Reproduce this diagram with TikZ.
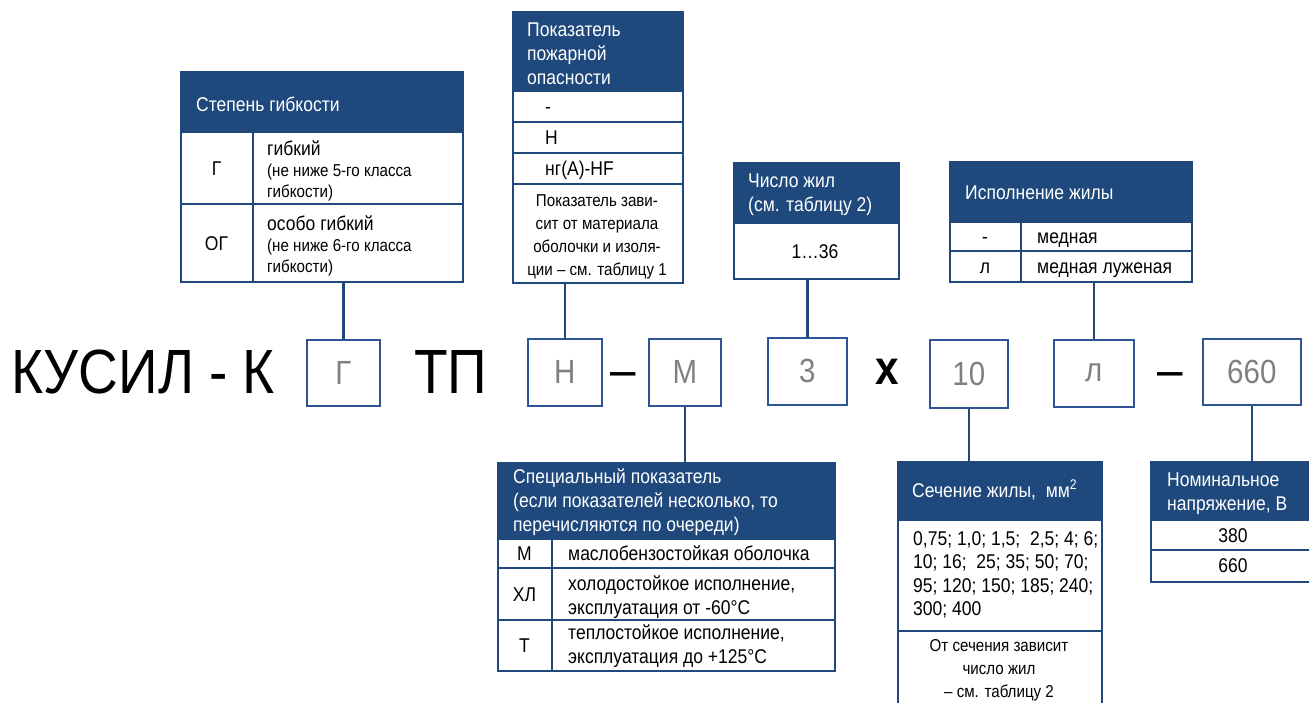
\documentclass[tikz,border=0pt]{standalone}
\usepackage{fontspec}
\setmainfont{Liberation Sans}[FakeStretch=0.88]
\usepackage{xcolor}
\usepackage{tikz}
\usetikzlibrary{positioning}

\definecolor{navy}{RGB}{31,73,125}
\definecolor{boxblue}{RGB}{47,84,150}
\definecolor{codegray}{RGB}{128,128,128}
\newcommand\fsz[2]{\fontsize{#1pt}{#2pt}\selectfont}

\tikzset{
  tabframe/.style={draw=navy,line width=2.4pt,inner sep=0pt,anchor=north west},
  rule/.style={navy,line width=2.4pt},
  link/.style={navy,line width=2.6pt},
  head/.style={text=white,font=\fsz{19.9}{24},align=left,inner sep=0pt,anchor=west},
  cell/.style={font=\fsz{19.9}{23},inner sep=0pt,text height=14pt,text depth=0pt},
  multi/.style={font=\fsz{19.9}{23.5},align=left,inner sep=0pt,anchor=west},
  note/.style={font=\fsz{17.2}{21},align=left,inner sep=0pt,anchor=west},
  remark/.style={font=\fsz{17.2}{23},align=center,inner sep=0pt},
  big/.style={font=\fsz{62.5}{62.5},inner sep=0pt,anchor=base west},
  sign/.style={font=\fsz{52}{52},inner sep=0pt,anchor=base},
  codebox/.style={draw=boxblue,line width=1.6pt,inner sep=0pt,anchor=north west,
    text=codegray,font=\fsz{33.5}{33.5}}
}

\begin{document}
\begin{tikzpicture}[x=1pt,y=-1pt]
  \useasboundingbox (0,0) rectangle (1309,702);
  \clip (0,0) rectangle (1309,702);

  % марка кабеля
  \node[big] (brand) at (11,393) {КУСИЛ - К};
  \node[codebox,minimum width=73pt,minimum height=66pt] (bG) at (306,339) {Г};
  \node[big] (tp) at (414,393) {ТП};
  \node[codebox,minimum width=74pt,minimum height=67pt] (bH) at (527,338) {Н};
  \node[sign] (dashA) at (623,387) {–};
  \node[codebox,minimum width=72pt,minimum height=67pt] (bM) at (648,338) {М};
  \node[codebox,minimum width=79pt,minimum height=67pt] (b3) at (767,337) {3};
  \node[sign,font=\fsz{48}{48}\bfseries] (times) at (887,384) {х};
  \node[codebox,minimum width=78pt,minimum height=68pt] (b10) at (929,339) {10};
  \node[codebox,minimum width=80pt,minimum height=67pt] (bL) at (1053,339) {л};
  \node[sign] (dashB) at (1170,387) {–};
  \node[codebox,minimum width=98pt,minimum height=66pt] (b660) at (1202,338) {660};

  % степень гибкости
  \fill[navy] (180,71) rectangle (462,132);
  \node[tabframe,minimum width=282pt,minimum height=210pt] (tabG) at (180,71) {};
  \draw[rule] (180,132) -- (462,132) (180,204) -- (462,204) (253,132) -- (253,281);
  \node[head] (hG) at (196,104) {Степень гибкости};
  \node[cell] (kG1) at (216.5,168) {Г};
  \node[note] (dG1) at (267,171) {{\fsz{19.9}{21}гибкий}\\(не ниже 5-го класса\\гибкости)};
  \node[cell] (kG2) at (216.5,243) {ОГ};
  \node[note] (dG2) at (267,246) {{\fsz{19.9}{21}особо гибкий}\\(не ниже 6-го класса\\гибкости)};

  % пожарная опасность
  \fill[navy] (512,11) rectangle (682,91);
  \node[tabframe,minimum width=170pt,minimum height=271pt] (tabP) at (512,11) {};
  \draw[rule] (512,91) -- (682,91) (512,122) -- (682,122) (512,153) -- (682,153) (512,184) -- (682,184);
  \node[head] (hP) at (527,54) {Показатель\\пожарной\\опасности};
  \node[cell,anchor=west] (kP1) at (545,106.5) {-};
  \node[cell,anchor=west] (kP2) at (545,137.5) {Н};
  \node[cell,anchor=west] (kP3) at (545,168.5) {нг(А)-HF};
  \node[remark] (rP) at (597,237) {Показатель зави-\\сит от материала\\оболочки и изоля-\\ции – см. таблицу 1};

  % число жил
  \fill[navy] (733,162) rectangle (898,223);
  \node[tabframe,minimum width=165pt,minimum height=116pt] (tabN) at (733,162) {};
  \draw[rule] (733,223) -- (898,223);
  \node[head] (hN) at (748,195) {Число жил\\(см. таблицу 2)};
  \node[cell] (kN) at (815,251) {1…36};

  % исполнение жилы
  \fill[navy] (949,161) rectangle (1191,222);
  \node[tabframe,minimum width=242pt,minimum height=120pt] (tabI) at (949,161) {};
  \draw[rule] (949,222) -- (1191,222) (949,251) -- (1191,251) (1021,222) -- (1021,281);
  \node[head] (hI) at (965,193) {Исполнение жилы};
  \node[cell] (kI1) at (985,236.5) {-};
  \node[cell,anchor=west] (dI1) at (1037,236.5) {медная};
  \node[cell] (kI2) at (985,266) {л};
  \node[cell,anchor=west] (dI2) at (1037,266) {медная луженая};

  % специальный показатель
  \fill[navy] (497,462) rectangle (834,539);
  \node[tabframe,minimum width=337pt,minimum height=208pt] (tabS) at (497,462) {};
  \draw[rule] (497,539) -- (834,539) (497,568) -- (834,568) (497,620) -- (834,620) (552,539) -- (552,670);
  \node[head] (hS) at (513,502) {Специальный показатель\\(если показателей несколько, то\\перечисляются по очереди)};
  \node[cell] (kS1) at (524.5,553.5) {М};
  \node[cell,anchor=west] (dS1) at (568,553.5) {маслобензостойкая оболочка};
  \node[cell] (kS2) at (524.5,594) {ХЛ};
  \node[multi] (dS2) at (568,597) {холодостойкое исполнение,\\эксплуатация от -60°C};
  \node[cell] (kS3) at (524.5,645) {Т};
  \node[multi] (dS3) at (568,646) {теплостойкое исполнение,\\эксплуатация до +125°C};

  % сечение жилы
  \fill[navy] (897,461) rectangle (1101,520);
  \node[tabframe,minimum width=204pt,minimum height=260pt] (tabC) at (897,461) {};
  \draw[rule] (897,520) -- (1101,520) (897,631) -- (1101,631);
  \node[head] (hC) at (912,490) {Сечение жилы,\ \ мм\textsuperscript{2}};
  \node[multi] (dC) at (913,575) {0,75; 1,0; 1,5;\ \ 2,5; 4; 6;\\10; 16;\ \ 25; 35; 50; 70;\\95; 120; 150; 185; 240;\\300; 400};
  \node[remark] (rC) at (999,670) {От сечения зависит\\число жил\\– см. таблицу 2};

  % номинальное напряжение
  \fill[navy] (1150,461) rectangle (1316,520);
  \node[tabframe,minimum width=166pt,minimum height=120pt] (tabU) at (1150,461) {};
  \draw[rule] (1150,520) -- (1316,520) (1150,550) -- (1316,550);
  \node[head] (hU) at (1167,494) {Номинальное\\напряжение, В};
  \node[cell] (kU1) at (1233,535) {380};
  \node[cell] (kU2) at (1233,565.5) {660};

  % выноски
  \draw[link] (bG.north |- tabG.south) -- (bG.north);
  \draw[link] (bH.north |- tabP.south) -- (bH.north);
  \draw[link] (b3.north |- tabN.south) -- (b3.north);
  \draw[link] (bL.north |- tabI.south) -- (bL.north);
  \draw[link] (bM.south) -- (bM.south |- tabS.north);
  \draw[link] (b10.south) -- (b10.south |- tabC.north);
  \draw[link] (b660.south) -- (b660.south |- tabU.north);
\end{tikzpicture}
\end{document}
